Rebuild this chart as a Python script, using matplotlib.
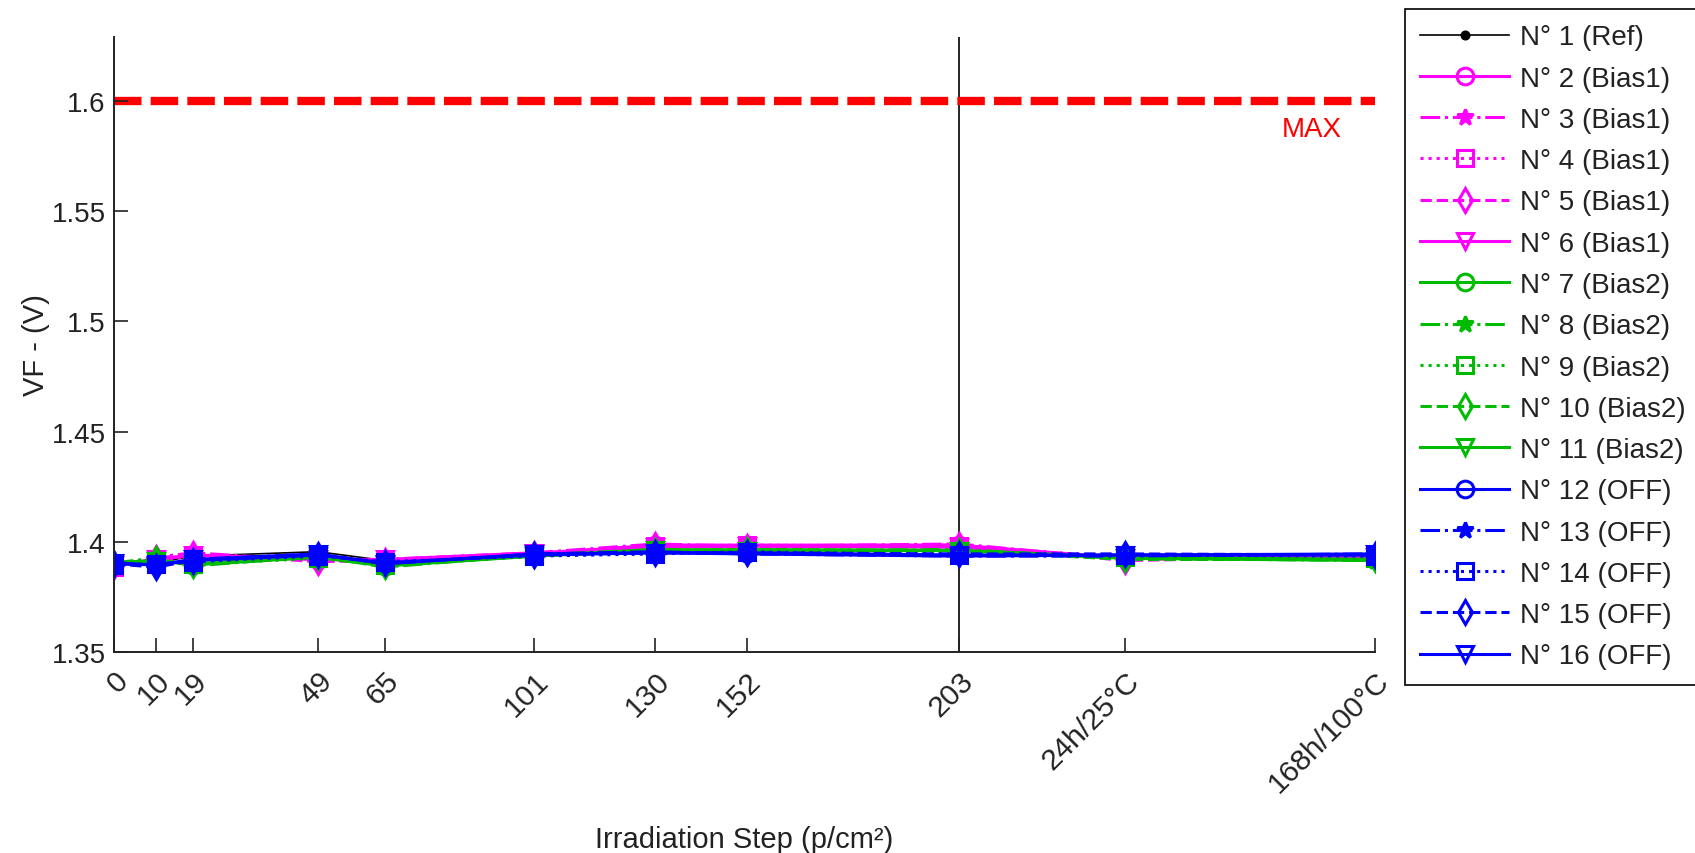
import matplotlib
matplotlib.use('Agg')
import matplotlib.pyplot as plt

plt.rcParams['font.family'] = ['Liberation Sans', 'DejaVu Sans']

# ---------------- data ----------------
step_labels = ['0', '10', '19', '49', '65', '101', '130', '152', '203', '24h/25°C', '168h/100°C']
step_x = [0, 10, 19, 49, 65, 101, 130, 152, 203, 243, 303]

series_names = ['N° 1 (Ref)',
                'N° 2 (Bias1)', 'N° 3 (Bias1)', 'N° 4 (Bias1)', 'N° 5 (Bias1)', 'N° 6 (Bias1)',
                'N° 7 (Bias2)', 'N° 8 (Bias2)', 'N° 9 (Bias2)', 'N° 10 (Bias2)', 'N° 11 (Bias2)',
                'N° 12 (OFF)', 'N° 13 (OFF)', 'N° 14 (OFF)', 'N° 15 (OFF)', 'N° 16 (OFF)']

vf_1 = [1.3900, 1.3905, 1.3935, 1.3955, 1.3915, 1.3940, 1.3955, 1.3950, 1.3940, 1.3935, 1.3935]
vf_2 = [1.3890, 1.3920, 1.3940, 1.3920, 1.3915, 1.3945, 1.3985, 1.3985, 1.3985, 1.3925, 1.3935]
vf_3 = [1.3895, 1.3930, 1.3950, 1.3915, 1.3920, 1.3950, 1.3990, 1.3980, 1.3990, 1.3920, 1.3930]
vf_4 = [1.3885, 1.3915, 1.3935, 1.3925, 1.3910, 1.3940, 1.3980, 1.3985, 1.3980, 1.3930, 1.3940]
vf_5 = [1.3890, 1.3925, 1.3945, 1.3910, 1.3915, 1.3945, 1.3985, 1.3975, 1.3985, 1.3915, 1.3935]
vf_6 = [1.3895, 1.3920, 1.3940, 1.3920, 1.3920, 1.3950, 1.3975, 1.3980, 1.3975, 1.3925, 1.3930]
vf_7 = [1.3900, 1.3915, 1.3895, 1.3930, 1.3890, 1.3935, 1.3960, 1.3965, 1.3960, 1.3930, 1.3920]
vf_8 = [1.3905, 1.3925, 1.3890, 1.3935, 1.3885, 1.3940, 1.3965, 1.3960, 1.3965, 1.3925, 1.3915]
vf_9 = [1.3895, 1.3910, 1.3900, 1.3925, 1.3895, 1.3935, 1.3955, 1.3960, 1.3955, 1.3930, 1.3925]
vf_10 = [1.3900, 1.3920, 1.3895, 1.3930, 1.3890, 1.3940, 1.3960, 1.3965, 1.3960, 1.3920, 1.3920]
vf_11 = [1.3905, 1.3915, 1.3900, 1.3935, 1.3895, 1.3935, 1.3965, 1.3960, 1.3960, 1.3925, 1.3915]
vf_12 = [1.3900, 1.3895, 1.3915, 1.3940, 1.3905, 1.3940, 1.3950, 1.3950, 1.3940, 1.3940, 1.3940]
vf_13 = [1.3905, 1.3890, 1.3920, 1.3945, 1.3900, 1.3945, 1.3955, 1.3945, 1.3935, 1.3935, 1.3945]
vf_14 = [1.3895, 1.3900, 1.3910, 1.3935, 1.3910, 1.3935, 1.3945, 1.3955, 1.3940, 1.3940, 1.3935]
vf_15 = [1.3900, 1.3885, 1.3915, 1.3940, 1.3905, 1.3940, 1.3950, 1.3950, 1.3945, 1.3945, 1.3940]
vf_16 = [1.3905, 1.3895, 1.3920, 1.3945, 1.3900, 1.3945, 1.3950, 1.3945, 1.3935, 1.3940, 1.3945]

all_vf = [vf_1, vf_2, vf_3, vf_4, vf_5, vf_6, vf_7, vf_8, vf_9, vf_10, vf_11,
          vf_12, vf_13, vf_14, vf_15, vf_16]

vf_max = 1.6
y_ticks = [1.35, 1.4, 1.45, 1.5, 1.55, 1.6]
y_tick_labels = ['1.35', '1.4', '1.45', '1.5', '1.55', '1.6']

# ---------------- styles ----------------
MAG = '#FF00FF'
GRN = '#00BB00'
BLU = '#0000FF'
colors = ['black'] + [MAG] * 5 + [GRN] * 5 + [BLU] * 5
group_ls = ['-', '-.', ':', '--', '-']
group_mk = ['o', '*', 's', 'd', 'v']
linestyles = ['-'] + group_ls * 3
markers = ['.'] + group_mk * 3

FS = 20
TXT = '#222222'
fig = plt.figure(figsize=(16.95, 8.54), dpi=100)
ax = fig.add_axes([114 / 1695, 1 - 653 / 854, (1375 - 114) / 1695, (653 - 38) / 854])

handles = []
for i, (vals, name) in enumerate(zip(all_vf, series_names)):
    mk = markers[i]
    filled = mk in ('.', '*')
    h, = ax.plot(step_x, vals, linestyle=linestyles[i], color=colors[i],
                 marker=mk, markersize=(10 if mk == '.' else 12),
                 markerfacecolor=(colors[i] if filled else 'none'),
                 markeredgecolor=colors[i], markeredgewidth=2.2,
                 linewidth=(1.2 if i == 0 else 2.2), label=name,
                 zorder=2 + i * 0.01)
    handles.append(h)

# max line
ax.plot([step_x[0], step_x[-1]], [vf_max, vf_max], color='red', linewidth=6,
        dashes=(3.3, 1.1), dash_capstyle='butt', zorder=1.5)
ax.text(0.95, 0.85, 'MAX', color='red',
        fontsize=FS, ha='center', va='center', transform=ax.transAxes)

# vertical separator at 203
ax.axvline(step_x[8], color='black', linewidth=1.2, zorder=1)

ax.set_xlim(step_x[0], step_x[-1])
ax.set_ylim(1.35, 1.629)
ax.set_xticks(step_x)
ax.set_xticklabels(step_labels, rotation=45, ha='right', va='top',
                   rotation_mode='anchor', fontsize=21.5)
ax.set_yticks(y_ticks)
ax.set_yticklabels(y_tick_labels, fontsize=FS)
ax.tick_params(axis='both', direction='in', length=10, width=1.2, color=TXT,
               labelcolor=TXT)
ax.tick_params(axis='x', pad=10)
ax.tick_params(axis='y', pad=6)
for s in ['top', 'right']:
    ax.spines[s].set_visible(False)
for s in ['left', 'bottom']:
    ax.spines[s].set_linewidth(1.4)
    ax.spines[s].set_color(TXT)

ax.set_xlabel('Irradiation Step (p/cm²)', fontsize=21, color=TXT)
ax.xaxis.set_label_coords(0.5, -0.281)
ax.set_ylabel('VF - (V)', fontsize=21, color=TXT)
ax.yaxis.set_label_coords(-0.051, 0.5)

leg = fig.legend(handles=handles, loc='upper left',
                 bbox_to_anchor=(1405 / 1695, 1 - 10 / 854),
                 bbox_transform=fig.transFigure, borderaxespad=0,
                 fontsize=FS, handlelength=3.2, handletextpad=0.4,
                 labelspacing=0.55, borderpad=0.55, fancybox=False,
                 framealpha=1, edgecolor='black')
leg.get_frame().set_linewidth(1.2)
for t in leg.get_texts():
    t.set_color(TXT)

fig.savefig('out.png', dpi=100)
